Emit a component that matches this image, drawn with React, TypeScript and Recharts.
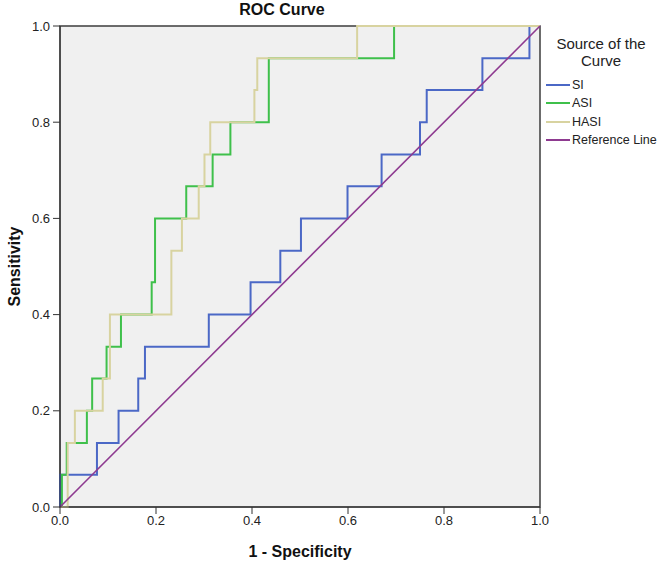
import React from "react";
import {
  LineChart,
  Line,
  XAxis,
  YAxis,
  ReferenceArea,
  Legend,
} from "recharts";

// ROC points (1 - specificity, sensitivity), drawn as step-after curves
const siFpr = [0, 0, 0.077, 0.122, 0.163, 0.177, 0.31, 0.397, 0.459, 0.502, 0.599, 0.67, 0.75, 0.764, 0.88, 0.978, 1.0];
const siTpr = [0, 0.067, 0.133, 0.2, 0.267, 0.333, 0.4, 0.467, 0.533, 0.6, 0.667, 0.733, 0.8, 0.867, 0.933, 1.0, 1.0];

const asiFpr = [0, 0.004, 0.014, 0.056, 0.067, 0.097, 0.127, 0.191, 0.198, 0.263, 0.318, 0.355, 0.435, 0.696, 1.0];
const asiTpr = [0, 0.067, 0.133, 0.2, 0.267, 0.333, 0.4, 0.467, 0.6, 0.667, 0.733, 0.8, 0.933, 1.0, 1.0];

const hasiFpr = [0, 0.016, 0.031, 0.089, 0.104, 0.232, 0.254, 0.289, 0.301, 0.313, 0.405, 0.411, 0.619, 1.0];
const hasiTpr = [0, 0.133, 0.2, 0.267, 0.4, 0.533, 0.6, 0.667, 0.733, 0.8, 0.867, 0.933, 1.0, 1.0];

const refFpr = [0, 1];
const refTpr = [0, 1];

const axisTicks = [0, 0.2, 0.4, 0.6, 0.8, 1.0];

const toPoints = (xs: number[], ys: number[]) =>
  xs.map((fpr, i) => ({ fpr, tpr: ys[i] }));

const series = [
  { name: "SI", color: "#4b68c6", data: toPoints(siFpr, siTpr), type: "stepAfter" },
  { name: "ASI", color: "#3fc04b", data: toPoints(asiFpr, asiTpr), type: "stepAfter" },
  { name: "HASI", color: "#d8d3a0", data: toPoints(hasiFpr, hasiTpr), type: "stepAfter" },
  { name: "Reference Line", color: "#8e3a90", data: toPoints(refFpr, refTpr), type: "linear" },
];

const font = '"Liberation Sans", Arial, sans-serif';

const LegendBox = () => (
  <div style={{ fontFamily: font, color: "#222", width: 120 }}>
    <div style={{ textAlign: "center", fontSize: 15, lineHeight: "17px" }}>
      Source of the
      <br />
      Curve
    </div>
    <div style={{ marginTop: 7 }}>
      {series.map((s) => (
        <div
          key={s.name}
          style={{
            display: "flex",
            alignItems: "center",
            height: 18.3,
            fontSize: 12.5,
            whiteSpace: "nowrap",
          }}
        >
          <span
            style={{
              display: "inline-block",
              flex: "none",
              marginLeft: 5,
              width: 24,
              height: 2,
              background: s.color,
            }}
          />
          <span style={{ marginLeft: 2 }}>{s.name}</span>
        </div>
      ))}
    </div>
  </div>
);

export default function App() {
  return (
    <div
      style={{
        position: "absolute",
        left: 0,
        top: 0,
        width: 661,
        height: 563,
        fontFamily: font,
        background: "#fff",
      }}
    >
      <div
        style={{
          position: "absolute",
          top: 0,
          left: 182,
          width: 200,
          textAlign: "center",
          fontWeight: "bold",
          fontSize: 16,
          lineHeight: "19px",
          color: "#111",
        }}
      >
        ROC Curve
      </div>
      <LineChart
        width={661}
        height={563}
        margin={{ top: 26, right: 121, left: 0, bottom: 0 }}
      >
        <ReferenceArea
          x1={0}
          x2={1}
          y1={0}
          y2={1}
          fill="#f0f0f0"
          fillOpacity={1}
          stroke="#3c3c3c"
          strokeWidth={1.5}
        />
        <XAxis
          type="number"
          dataKey="fpr"
          domain={[0, 1]}
          ticks={axisTicks}
          tickFormatter={(v: number) => v.toFixed(1)}
          tickSize={7}
          tickMargin={2}
          height={56}
          stroke="#333"
          tick={{ fill: "#222", fontSize: 13 }}
          label={{
            value: "1 - Specificity",
            position: "insideBottom",
            offset: 6,
            style: { fontWeight: "bold", fontSize: 16, fill: "#111" },
          }}
        />
        <YAxis
          type="number"
          domain={[0, 1]}
          ticks={axisTicks}
          tickFormatter={(v: number) => v.toFixed(1)}
          tickSize={7}
          tickMargin={3}
          width={60}
          stroke="#333"
          tick={{ fill: "#222", fontSize: 13 }}
          label={{
            value: "Sensitivity",
            angle: -90,
            position: "insideLeft",
            offset: 14,
            style: { fontWeight: "bold", fontSize: 16, fill: "#111", textAnchor: "middle" },
          }}
        />
        {series.map((s) => (
          <Line
            key={s.name}
            data={s.data}
            dataKey="tpr"
            name={s.name}
            type={s.type as any}
            stroke={s.color}
            strokeWidth={s.type === "linear" ? 1.6 : 2}
            dot={false}
            activeDot={false}
            isAnimationActive={false}
          />
        ))}
        <Legend
          layout="vertical"
          align="center"
          verticalAlign="middle"
          wrapperStyle={{ left: 541, top: 35, width: 120 }}
          content={() => <LegendBox />}
        />
      </LineChart>
    </div>
  );
}
